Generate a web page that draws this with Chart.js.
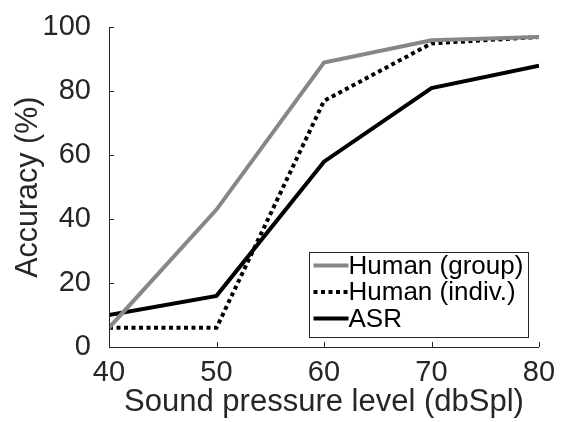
<!DOCTYPE html>
<html>
<head>
<meta charset="utf-8">
<script src="https://cdn.jsdelivr.net/npm/chart.js@4"></script>
<style>
  html, body { margin: 0; padding: 0; background: #fff; }
  #wrap { width: 563px; height: 422px; }
</style>
</head>
<body>
<div id="wrap"><canvas id="grafico" width="563" height="422"></canvas></div>
<script>
const niveis = [40, 50, 60, 70, 80];
const humanoGrupo = [6, 43, 89, 96, 97];
const humanoIndiv = [6, 6, 77, 95, 97];
const asr = [10, 16, 58, 81, 88];
const ticksY = [0, 20, 40, 60, 80, 100];
const ticksX = [40, 50, 60, 70, 80];

const corTexto = "#262626";
const fonte = "'Liberation Sans', Arial, Helvetica, sans-serif";

function pontos(valores) {
  return niveis.map((n, i) => ({ x: n, y: valores[i] }));
}

// ticks para dentro e legenda dentro do grafico, estilo MATLAB
const estiloMatlab = {
  id: "estiloMatlab",
  afterDraw(chart) {
    const ctx = chart.ctx;
    const sx = chart.scales.x;
    const sy = chart.scales.y;
    const area = chart.chartArea;
    ctx.save();
    ctx.strokeStyle = corTexto;
    ctx.lineWidth = 1;
    ctx.beginPath();
    ctx.moveTo(area.left + 0.5, area.top);
    ctx.lineTo(area.left + 0.5, area.bottom + 0.5);
    ctx.lineTo(area.right, area.bottom + 0.5);
    ticksX.forEach(v => {
      const px = Math.round(sx.getPixelForValue(v)) + 0.5;
      ctx.moveTo(px, area.bottom);
      ctx.lineTo(px, area.bottom - 5);
    });
    ticksY.forEach(v => {
      const py = Math.round(sy.getPixelForValue(v)) + 0.5;
      ctx.moveTo(area.left, py);
      ctx.lineTo(area.left + 5, py);
    });
    ctx.stroke();

    // legenda
    const bx = 309.5, by = 252.5, bw = 219, bh = 85;
    ctx.fillStyle = "#fff";
    ctx.fillRect(bx, by, bw, bh);
    ctx.strokeStyle = corTexto;
    ctx.strokeRect(bx, by, bw, bh);
    ctx.font = "26px " + fonte;
    ctx.textBaseline = "middle";
    chart.data.datasets.forEach((ds, i) => {
      const y = by + 13 + i * 26.5;
      ctx.strokeStyle = ds.borderColor;
      ctx.lineWidth = ds.borderWidth;
      ctx.setLineDash(ds.borderDash || []);
      ctx.beginPath();
      ctx.moveTo(bx + 4, y);
      ctx.lineTo(bx + 39, y);
      ctx.stroke();
      ctx.setLineDash([]);
      ctx.fillStyle = "#000";
      ctx.fillText(ds.label, bx + 39, y + 1);
    });
    ctx.restore();
  }
};

const ctx = document.getElementById("grafico");
const meuGrafico = new Chart(ctx, {
  type: "line",
  data: {
    datasets: [
      {
        label: "Human (group)",
        data: pontos(humanoGrupo),
        borderColor: "#878787",
        borderWidth: 4,
      },
      {
        label: "Human (indiv.)",
        data: pontos(humanoIndiv),
        borderColor: "#000",
        borderWidth: 4,
        borderDash: [4, 3.5],
      },
      {
        label: "ASR",
        data: pontos(asr),
        borderColor: "#000",
        borderWidth: 4,
      },
    ],
  },
  options: {
    responsive: false,
    animation: false,
    devicePixelRatio: 1,
    layout: { padding: { top: 18, right: 24, left: 0, bottom: 0 } },
    elements: { point: { radius: 0 }, line: { tension: 0, borderJoinStyle: "miter" } },
    plugins: { legend: { display: false }, tooltip: { enabled: false } },
    scales: {
      x: {
        type: "linear",
        min: 40,
        max: 80,
        afterBuildTicks: s => { s.ticks = ticksX.map(v => ({ value: v })); },
        grid: { display: false },
        border: { display: false },
        ticks: { color: corTexto, font: { family: fonte, size: 29 }, padding: 1, maxRotation: 0 },
        title: {
          display: true,
          text: "Sound pressure level (dbSpl)",
          color: corTexto,
          font: { family: fonte, size: 31 },
          padding: { top: 0, bottom: 1 },
        },
        afterFit: s => { s.height = 75; },
      },
      y: {
        min: 0,
        max: 100,
        afterBuildTicks: s => { s.ticks = ticksY.map(v => ({ value: v })); },
        grid: { display: false },
        border: { display: false },
        ticks: { color: corTexto, font: { family: fonte, size: 29 }, padding: 10 },
        title: {
          display: true,
          text: "Accuracy (%)",
          color: corTexto,
          font: { family: fonte, size: 30.5 },
          padding: { top: 10, bottom: 0 },
        },
        afterFit: s => { s.width = 109; },
      },
    },
  },
  plugins: [estiloMatlab],
});
</script>
</body>
</html>
